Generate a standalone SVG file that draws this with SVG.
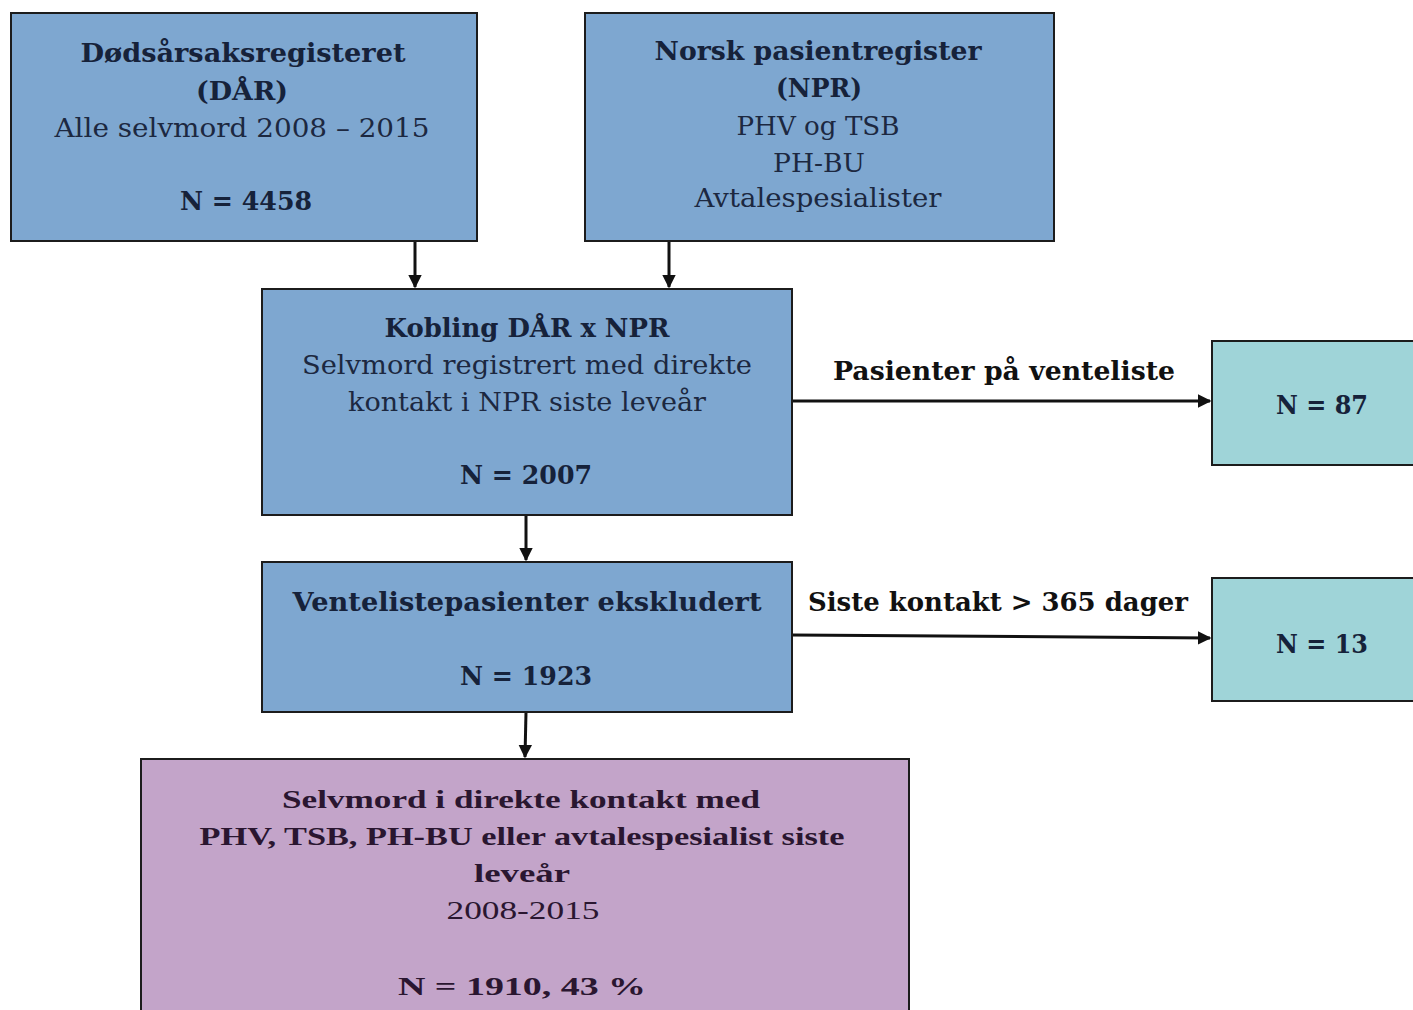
<svg xmlns="http://www.w3.org/2000/svg" width="1413" height="1010" viewBox="0 0 1413 1010">
<defs>
<marker id="ah" viewBox="0 0 10 10" refX="9" refY="5" markerWidth="4.5" markerHeight="4.5" orient="auto" markerUnits="strokeWidth">
<path d="M0,0 L10,5 L0,10 z" fill="#111"/>
</marker>
<style>
.blue{fill:#7ea7d0;stroke:#1c1c1c;stroke-width:2}
.teal{fill:#9fd4d8;stroke:#1c1c1c;stroke-width:2}
.purple{fill:#c3a4c9;stroke:#1c1c1c;stroke-width:2}
text{font-family:"DejaVu Serif","Liberation Serif",serif;font-size:26px;fill:#16223a;text-anchor:middle}
.b{font-weight:bold}
.n{font-weight:normal;fill:#1c2840}
.p{font-family:"Liberation Serif","DejaVu Serif",serif;fill:#2a1630}
.lbl{fill:#111}
.c{stroke:#111;stroke-width:3;fill:none;marker-end:url(#ah)}
</style>
</defs>
<rect width="1413" height="1010" fill="#ffffff"/>
<g id="connectors">
<line class="c" x1="415" y1="241" x2="415" y2="287"/>
<line class="c" x1="669" y1="241" x2="669" y2="287"/>
<line class="c" x1="526" y1="515" x2="526" y2="560"/>
<line class="c" x1="526" y1="712" x2="525" y2="757"/>
<line class="c" x1="792" y1="401" x2="1210" y2="401"/>
<line class="c" x1="792" y1="635" x2="1210" y2="638"/>
<text class="b lbl" x="1004" y="380" textLength="342" lengthAdjust="spacingAndGlyphs">Pasienter på venteliste</text>
<text class="b lbl" x="998" y="611" textLength="380" lengthAdjust="spacingAndGlyphs">Siste kontakt &gt; 365 dager</text>
</g>
<g id="node-daar">
<rect class="blue" x="11" y="13" width="466" height="228"/>
<text class="b" x="243" y="62" textLength="325" lengthAdjust="spacingAndGlyphs">Dødsårsaksregisteret</text>
<text class="b" x="242" y="100" textLength="92" lengthAdjust="spacingAndGlyphs">(DÅR)</text>
<text class="n" x="242" y="137" textLength="375" lengthAdjust="spacingAndGlyphs">Alle selvmord 2008 – 2015</text>
<text class="b" x="246" y="210" textLength="132" lengthAdjust="spacingAndGlyphs">N = 4458</text>
</g>
<g id="node-npr">
<rect class="blue" x="585" y="13" width="469" height="228"/>
<text class="b" x="818" y="60" textLength="327" lengthAdjust="spacingAndGlyphs">Norsk pasientregister</text>
<text class="b" x="819" y="97" textLength="86" lengthAdjust="spacingAndGlyphs">(NPR)</text>
<text class="n" x="818" y="135" textLength="163" lengthAdjust="spacingAndGlyphs">PHV og TSB</text>
<text class="n" x="819" y="172" textLength="92" lengthAdjust="spacingAndGlyphs">PH-BU</text>
<text class="n" x="818" y="207" textLength="247" lengthAdjust="spacingAndGlyphs">Avtalespesialister</text>
</g>
<g id="node-kobling">
<rect class="blue" x="262" y="289" width="530" height="226"/>
<text class="b" x="527" y="337" textLength="285" lengthAdjust="spacingAndGlyphs">Kobling DÅR x NPR</text>
<text class="n" x="527" y="374" textLength="450" lengthAdjust="spacingAndGlyphs">Selvmord registrert med direkte</text>
<text class="n" x="527" y="411" textLength="358" lengthAdjust="spacingAndGlyphs">kontakt i NPR siste leveår</text>
<text class="b" x="526" y="484" textLength="132" lengthAdjust="spacingAndGlyphs">N = 2007</text>
</g>
<g id="node-venteliste">
<rect class="blue" x="262" y="562" width="530" height="150"/>
<text class="b" x="527" y="611" textLength="469" lengthAdjust="spacingAndGlyphs">Ventelistepasienter ekskludert</text>
<text class="b" x="526" y="685" textLength="132" lengthAdjust="spacingAndGlyphs">N = 1923</text>
</g>
<g id="node-result">
<rect class="purple" x="141" y="759" width="768" height="260"/>
<text class="p b" x="521" y="808" font-size="31" textLength="478" lengthAdjust="spacingAndGlyphs">Selvmord i direkte kontakt med</text>
<text class="p b" x="522" y="845" font-size="31" textLength="645" lengthAdjust="spacingAndGlyphs">PHV, TSB, PH-BU eller avtalespesialist siste</text>
<text class="p b" x="522" y="882" font-size="31" textLength="96" lengthAdjust="spacingAndGlyphs">leveår</text>
<text class="p n" x="523" y="919" font-size="31" style="fill:#2a1630" textLength="153" lengthAdjust="spacingAndGlyphs">2008-2015</text>
<text class="p b" x="522" y="995" font-size="42" textLength="248" lengthAdjust="spacingAndGlyphs">N = 1910, 43 %</text>
</g>
<g id="node-n87">
<rect class="teal" x="1212" y="341" width="210" height="124"/>
<text class="b" x="1322" y="414" textLength="92" lengthAdjust="spacingAndGlyphs">N = 87</text>
</g>
<g id="node-n13">
<rect class="teal" x="1212" y="578" width="210" height="123"/>
<text class="b" x="1322" y="653" textLength="92" lengthAdjust="spacingAndGlyphs">N = 13</text>
</g>
</svg>
